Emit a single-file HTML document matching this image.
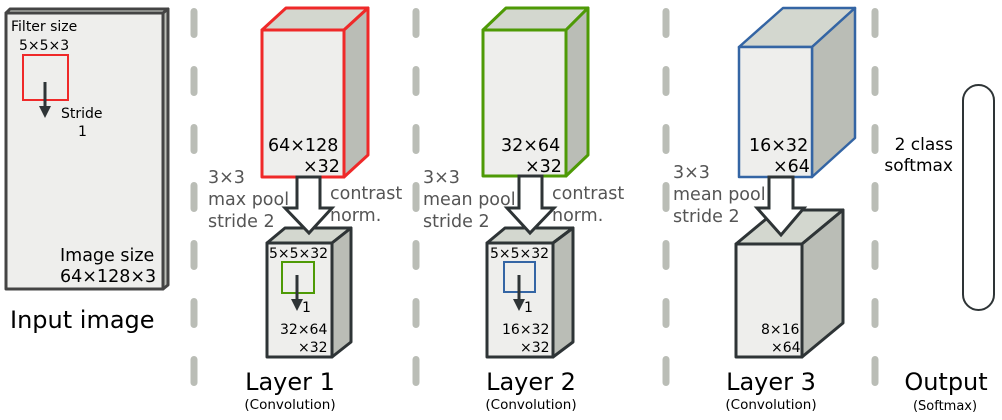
<!DOCTYPE html>
<html><head><meta charset="utf-8"><style>
html,body{margin:0;padding:0;background:#fff}
svg{display:block}
text{font-family:"DejaVu Sans","Liberation Sans",sans-serif}
</style></head><body>
<svg width="1002" height="420" viewBox="0 0 1002 420" xmlns="http://www.w3.org/2000/svg">
<defs>
<marker id="ah" markerWidth="4" markerHeight="4" refX="2" refY="2" orient="auto" markerUnits="strokeWidth"><path d="M0,0 L4,2 L0,4 z" fill="#2e3436"/></marker>
</defs>
<g stroke="#babdb6" stroke-width="7" stroke-linecap="round" stroke-dasharray="23 35">
<line x1="194" y1="11.5" x2="194" y2="390"/>
<line x1="416" y1="11.5" x2="416" y2="390"/>
<line x1="666" y1="11.5" x2="666" y2="390"/>
<line x1="875" y1="11.5" x2="875" y2="390"/>
</g>

<!-- Input image -->
<g stroke="#444" stroke-width="3" stroke-linejoin="round">
<polygon points="6,13 10,9 168,9 163,13" fill="#d3d7cf"/>
<polygon points="163,13 168,9 168,285 163,289" fill="#babdb6"/>
<rect x="6" y="13" width="157" height="276" fill="#eeeeec"/>
</g>
<rect x="23" y="55" width="45" height="45" fill="none" stroke="#ef2929" stroke-width="2"/>
<line x1="45" y1="82" x2="45" y2="112" stroke="#2e3436" stroke-width="3" marker-end="url(#ah)"/>
<g font-size="14" fill="#000">
<text x="11" y="31">Filter size</text>
<text x="19" y="50">5×5×3</text>
<text x="61" y="118">Stride</text>
<text x="78" y="136">1</text>
</g>
<g font-size="17.5" fill="#000">
<text x="60" y="261">Image size</text>
<text x="60" y="282">64×128×3</text>
</g>
<text x="10" y="328" font-size="24">Input image</text>

<!-- Layer 1 -->
<g stroke="#ef2929" stroke-width="3" stroke-linejoin="round">
<polygon points="262,30 286,8 368,8 344,30" fill="#d3d7cf"/>
<polygon points="344,30 368,8 368,155 344,177" fill="#babdb6"/>
<rect x="262" y="30" width="82" height="147" fill="#eeeeec"/>
</g>
<text x="268" y="151" font-size="17.5">64×128</text>
<text x="303" y="172" font-size="17.5">×32</text>
<g stroke="#2e3436" stroke-width="3" stroke-linejoin="round">
<polygon points="267,243 285,228 351,228 332,243" fill="#d3d7cf"/>
<polygon points="332,243 351,228 351,342 332,357" fill="#babdb6"/>
<rect x="267" y="243" width="65" height="114" fill="#eeeeec"/>
</g>
<g>
<polygon points="297,177 320,177 320,208 332,208 309,233 285,208 297,208" fill="#fff" stroke="#2e3436" stroke-width="3" stroke-linejoin="miter"/>
</g>
<text x="269" y="258" font-size="14">5×5×32</text>
<rect x="282" y="262" width="32" height="31" fill="none" stroke="#4e9a06" stroke-width="2"/>
<line x1="297" y1="275" x2="297" y2="305" stroke="#2e3436" stroke-width="3" marker-end="url(#ah)"/>
<text x="302" y="312" font-size="14">1</text>
<text x="280" y="334" font-size="14">32×64</text>
<text x="298" y="352" font-size="14">×32</text>
<g font-size="17.5" fill="#555">
<text x="208" y="183">3×3</text>
<text x="208" y="205">max pool</text>
<text x="208" y="227">stride 2</text>
<text x="330" y="199">contrast</text>
<text x="330" y="221">norm.</text>
</g>
<text x="290" y="390" font-size="24" text-anchor="middle">Layer 1</text>
<text x="290" y="409" font-size="13.5" text-anchor="middle">(Convolution)</text>

<!-- Layer 2 -->
<g stroke="#4e9a06" stroke-width="3" stroke-linejoin="round">
<polygon points="483,30 506,8 588,8 566,30" fill="#d3d7cf"/>
<polygon points="566,30 588,8 588,155 566,176" fill="#babdb6"/>
<rect x="483" y="30" width="83" height="146" fill="#eeeeec"/>
</g>
<text x="501" y="151" font-size="17.5">32×64</text>
<text x="525" y="172" font-size="17.5">×32</text>
<g stroke="#2e3436" stroke-width="3" stroke-linejoin="round">
<polygon points="487,243 505,228 573,228 553,243" fill="#d3d7cf"/>
<polygon points="553,243 573,228 573,342 553,357" fill="#babdb6"/>
<rect x="487" y="243" width="66" height="114" fill="#eeeeec"/>
</g>
<g>
<polygon points="519,176 542,176 542,208 554,208 530,233 507,208 519,208" fill="#fff" stroke="#2e3436" stroke-width="3"/>
</g>
<text x="490" y="258" font-size="14">5×5×32</text>
<rect x="504" y="262" width="31" height="30" fill="none" stroke="#3465a4" stroke-width="2"/>
<line x1="519" y1="275" x2="519" y2="305" stroke="#2e3436" stroke-width="3" marker-end="url(#ah)"/>
<text x="524" y="312" font-size="14">1</text>
<text x="502" y="334" font-size="14">16×32</text>
<text x="520" y="352" font-size="14">×32</text>
<g font-size="17.5" fill="#555">
<text x="423" y="183">3×3</text>
<text x="423" y="205">mean pool</text>
<text x="423" y="227">stride 2</text>
<text x="552" y="199">contrast</text>
<text x="552" y="221">norm.</text>
</g>
<text x="531" y="390" font-size="24" text-anchor="middle">Layer 2</text>
<text x="531" y="409" font-size="13.5" text-anchor="middle">(Convolution)</text>

<!-- Layer 3 -->
<g stroke="#3465a4" stroke-width="2.5" stroke-linejoin="round">
<polygon points="739,47 783,8 855,8 812,47" fill="#d3d7cf"/>
<polygon points="812,47 855,8 855,138 812,177" fill="#babdb6"/>
<rect x="739" y="47" width="73" height="130" fill="#eeeeec"/>
</g>
<text x="749" y="151" font-size="17.5">16×32</text>
<text x="773" y="172" font-size="17.5">×64</text>
<g stroke="#2e3436" stroke-width="3" stroke-linejoin="round">
<polygon points="736,244 777,210 843,210 802,244" fill="#d3d7cf"/>
<polygon points="802,244 843,210 843,323 802,357" fill="#babdb6"/>
<rect x="736" y="244" width="66" height="113" fill="#eeeeec"/>
</g>
<g>
<polygon points="769,177 793,177 793,208 804,208 781,235 757,208 769,208" fill="#fff" stroke="#2e3436" stroke-width="3"/>
</g>
<text x="761" y="334" font-size="14">8×16</text>
<text x="771" y="352" font-size="14">×64</text>
<g font-size="17.5" fill="#555">
<text x="673" y="178">3×3</text>
<text x="673" y="200">mean pool</text>
<text x="673" y="222">stride 2</text>
</g>
<text x="771" y="390" font-size="24" text-anchor="middle">Layer 3</text>
<text x="771" y="409" font-size="13.5" text-anchor="middle">(Convolution)</text>

<!-- Output -->
<rect x="963" y="85" width="31" height="225" rx="15.5" ry="15.5" fill="#fff" stroke="#2e3436" stroke-width="2"/>
<text x="953" y="150" font-size="17" text-anchor="end">2 class</text>
<text x="953" y="171" font-size="17" text-anchor="end">softmax</text>
<text x="946" y="390" font-size="24" text-anchor="middle">Output</text>
<text x="945" y="410" font-size="13" text-anchor="middle">(Softmax)</text>
</svg>
</body></html>
